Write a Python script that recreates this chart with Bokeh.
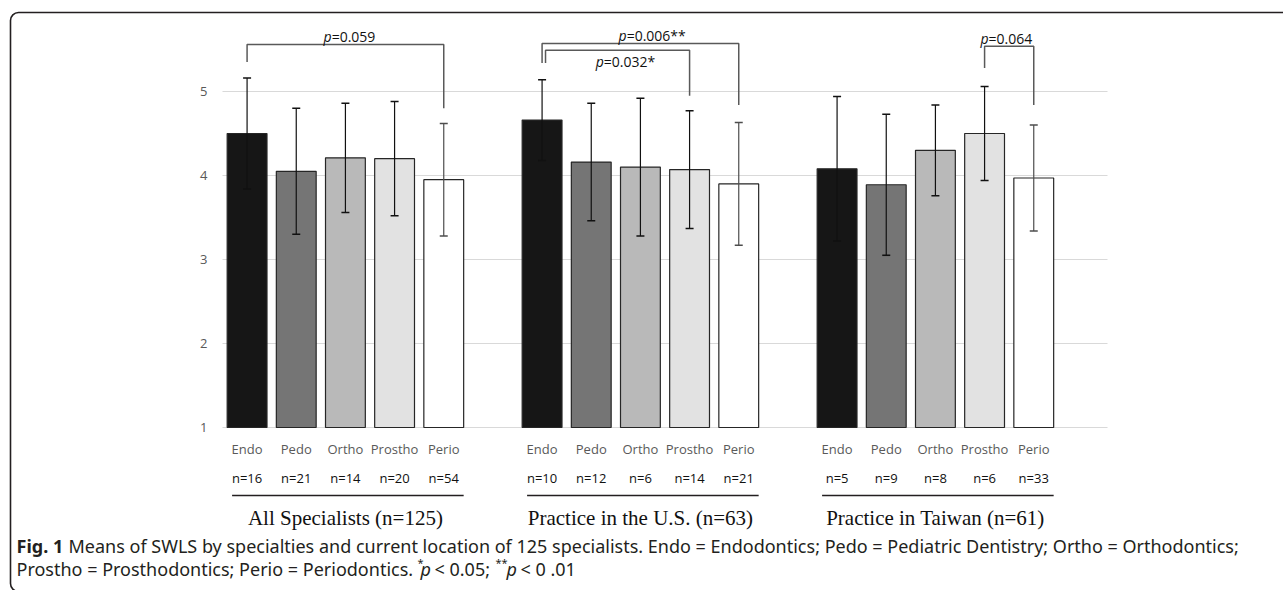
from bokeh.plotting import figure
from bokeh.models import (ColumnDataSource, Range1d, Whisker, TeeHead, Label, BoxAnnotation)
from bokeh.core.properties import value
from bokeh.embed import file_html
from bokeh.resources import INLINE

# ---------------- data ----------------
specialties = ["Endo", "Pedo", "Ortho", "Prostho", "Perio"]
groups = ["All Specialists (n=125)", "Practice in the U.S. (n=63)", "Practice in Taiwan (n=61)"]
y_ticks = [1, 2, 3, 4, 5]

means_all = [4.50, 4.05, 4.21, 4.20, 3.95]
sd_all = [0.66, 0.75, 0.65, 0.68, 0.67]
n_all = [16, 21, 14, 20, 54]

means_us = [4.66, 4.16, 4.10, 4.07, 3.90]
sd_us = [0.48, 0.70, 0.82, 0.70, 0.73]
n_us = [10, 12, 6, 14, 21]

means_tw = [4.08, 3.89, 4.30, 4.50, 3.97]
sd_tw = [0.86, 0.84, 0.54, 0.56, 0.63]
n_tw = [5, 9, 8, 6, 33]

# significance brackets: group, from specialty, to specialty, label
brackets = [
    (0, "Endo", "Perio", "=0.059"),
    (1, "Endo", "Perio", "=0.006**"),
    (1, "Endo", "Prostho", "=0.032*"),
    (2, "Prostho", "Perio", "=0.064"),
]
# bracket geometry (value units): top, left-leg end, right-leg end, label y
bracket_geom = [
    (5.56, 5.35, 4.80, 5.65),
    (5.57, 5.34, 4.84, 5.67),
    (5.49, 5.34, 4.95, 5.36),
    (5.54, 5.28, 4.84, 5.63),
]

caption1_bold = "Fig. 1"
caption1 = ("Means of SWLS by specialties and current location of 125 specialists. "
            "Endo = Endodontics; Pedo = Pediatric Dentistry; Ortho = Orthodontics;")
caption2 = "Prostho = Prosthodontics; Perio = Periodontics."

# ---------------- styling / layout ----------------
bar_colors = ["#161616", "#757575", "#b9b9b9", "#e2e2e2", "#ffffff"]
FONT = "Open Sans"
CAP_FONT = "Noto Sans"

W, H = 1283, 590
PLOT_L, PLOT_R, BASE_Y = 222, 1107, 427     # plot area in px
n_slots = 18
slot_w = (PLOT_R - PLOT_L) / n_slots
ppu = 84.0

def xd(px):  # px -> data x
    return (px - PLOT_L) / slot_w - 0.5

def yd(py):  # px -> data y
    return 1 + (BASE_Y - py) / ppu

all_means = [means_all, means_us, means_tw]
all_sds = [sd_all, sd_us, sd_tw]
all_ns = [n_all, n_us, n_tw]

xs, tops, ups, lows, cols, nlab, names = [], [], [], [], [], [], []
for g in range(3):
    for c in range(5):
        xs.append(g * 6 + c)
        tops.append(all_means[g][c])
        ups.append(all_means[g][c] + all_sds[g][c])
        lows.append(all_means[g][c] - all_sds[g][c])
        cols.append(bar_colors[c])
        nlab.append("n=%d" % all_ns[g][c])
        names.append(specialties[c])

src = ColumnDataSource(dict(x=xs, top=tops, upper=ups, lower=lows, color=cols, n=nlab, name=names))

p = figure(width=W, height=H, x_range=Range1d(xd(0), xd(W)), y_range=Range1d(yd(H), yd(0)),
           output_backend="svg", toolbar_location=None,
           x_axis_location=None, y_axis_location=None,
           min_border=0, min_border_left=0, min_border_right=0,
           min_border_top=0, min_border_bottom=0)
p.outline_line_color = None
p.background_fill_color = "white"
p.border_fill_color = "white"
p.grid.grid_line_color = None
p.grid.visible = False

# horizontal grid lines over the plot area
x_lo, x_hi = xd(PLOT_L), xd(PLOT_R)
p.segment(x0=[x_lo] * len(y_ticks), x1=[x_hi] * len(y_ticks), y0=y_ticks, y1=y_ticks,
          line_color="#d9d9d9", line_width=1.2)
# y tick labels
p.text(x=[xd(207)] * len(y_ticks), y=y_ticks, text=[str(t) for t in y_ticks],
       text_align="right", text_baseline="middle", text_font=value(FONT),
       text_font_size=value("13px"), text_color="#595959")

# bars
p.vbar(x="x", top="top", bottom=1, width=0.81, fill_color="color",
       line_color="#262626", line_width=1.2, source=src)

# error bars
perio_idx = [i for i, n in enumerate(names) if n == "Perio"]
other_idx = [i for i, n in enumerate(names) if n != "Perio"]
for idx, colr in ((other_idx, "#111111"), (perio_idx, "#4d4d4d")):
    s = ColumnDataSource(dict(base=[xs[i] for i in idx], upper=[ups[i] for i in idx],
                              lower=[lows[i] for i in idx]))
    w = Whisker(base="base", upper="upper", lower="lower", source=s, level="annotation",
                line_color=colr, line_width=1.2,
                upper_head=TeeHead(size=8, line_color=colr, line_width=1.5),
                lower_head=TeeHead(size=8, line_color=colr, line_width=1.5))
    p.add_layout(w)

# category labels & n labels
p.text(x="x", y=yd(448), text="name", source=src, text_align="center", text_baseline="middle",
       text_font=value(FONT), text_font_size=value("13px"), text_color="#595959")
p.text(x="x", y=yd(477), text="n", source=src, text_align="center", text_baseline="middle",
       text_font=value(FONT), text_font_size=value("13px"), text_color="#111111")

# group underline + titles
gx0 = [g * 6 - 0.405 + 0.1 for g in range(3)]
gx1 = [g * 6 + 4 + 0.405 for g in range(3)]
p.segment(x0=gx0, x1=gx1, y0=[yd(495)] * 3, y1=[yd(495)] * 3, line_color="#231f20", line_width=1.5)
p.text(x=[g * 6 + 2 for g in range(3)], y=[yd(517)] * 3, text=groups, text_align="center",
       text_baseline="middle", text_font=value("Liberation Serif"),
       text_font_size=value("21px"), text_color="#111111")

# significance brackets
bx, by = [], []
for (g, a, b, lab), (top, la, rb, ly) in zip(brackets, bracket_geom):
    x0 = g * 6 + specialties.index(a)
    x1 = g * 6 + specialties.index(b)
    if lab == "=0.032*":
        x0 += 0.07
    bx.append([x0, x0, x1, x1])
    by.append([la, top, top, rb])
    anchor = (x0 + x1) / 2 - 0.28
    if lab == "=0.064":
        anchor = x0 + 0.08
    p.add_layout(Label(x=anchor, y=ly, text="p", text_align="right", text_baseline="middle",
                       text_font=FONT, text_font_style="italic", text_font_size="14px",
                       text_color="#111111"))
    p.add_layout(Label(x=anchor, y=ly, text=lab, text_align="left", text_baseline="middle",
                       text_font=FONT, text_font_size="14px", text_color="#111111"))
p.multi_line(xs=bx, ys=by, line_color="#595959", line_width=1.5)

# caption
CAP_X = 16
cap_y1, cap_y2 = yd(545), yd(568)
p.add_layout(Label(x=xd(CAP_X), y=cap_y1, text=caption1_bold, text_baseline="middle",
                   text_font=CAP_FONT, text_font_style="bold", text_font_size="18px",
                   text_color="#231f20"))
p.add_layout(Label(x=xd(CAP_X + 52), y=cap_y1, text=caption1, text_baseline="middle",
                   text_font=CAP_FONT, text_font_size="18px", text_color="#231f20"))
p.add_layout(Label(x=xd(CAP_X), y=cap_y2, text=caption2, text_baseline="middle",
                   text_font=CAP_FONT, text_font_size="18px", text_color="#231f20"))
end2 = CAP_X + 395
pieces = [("*", 6, -6, "normal", "11px"), ("p", 9, 0, "italic", "18px"),
          ("< 0.05;", 23, 0, "normal", "18px"), ("**", 84, -6, "normal", "11px"),
          ("p", 95, 0, "italic", "18px"), ("< 0 .01", 109, 0, "normal", "18px")]
for t, dx, dy, st, fs in pieces:
    p.add_layout(Label(x=xd(end2 + dx), y=yd(568 + dy), text=t, text_baseline="middle",
                       text_font=CAP_FONT, text_font_style=st, text_font_size=fs,
                       text_color="#231f20"))

# frame border (rounded)
p.add_layout(BoxAnnotation(left=xd(10), right=xd(1310), top=yd(12), bottom=yd(591),
                           fill_color=None, fill_alpha=0, line_color="#231f20", line_alpha=1.0,
                           line_width=1.6, border_radius=8, level="overlay"))

open("out.html", "w").write(file_html(p, INLINE))
